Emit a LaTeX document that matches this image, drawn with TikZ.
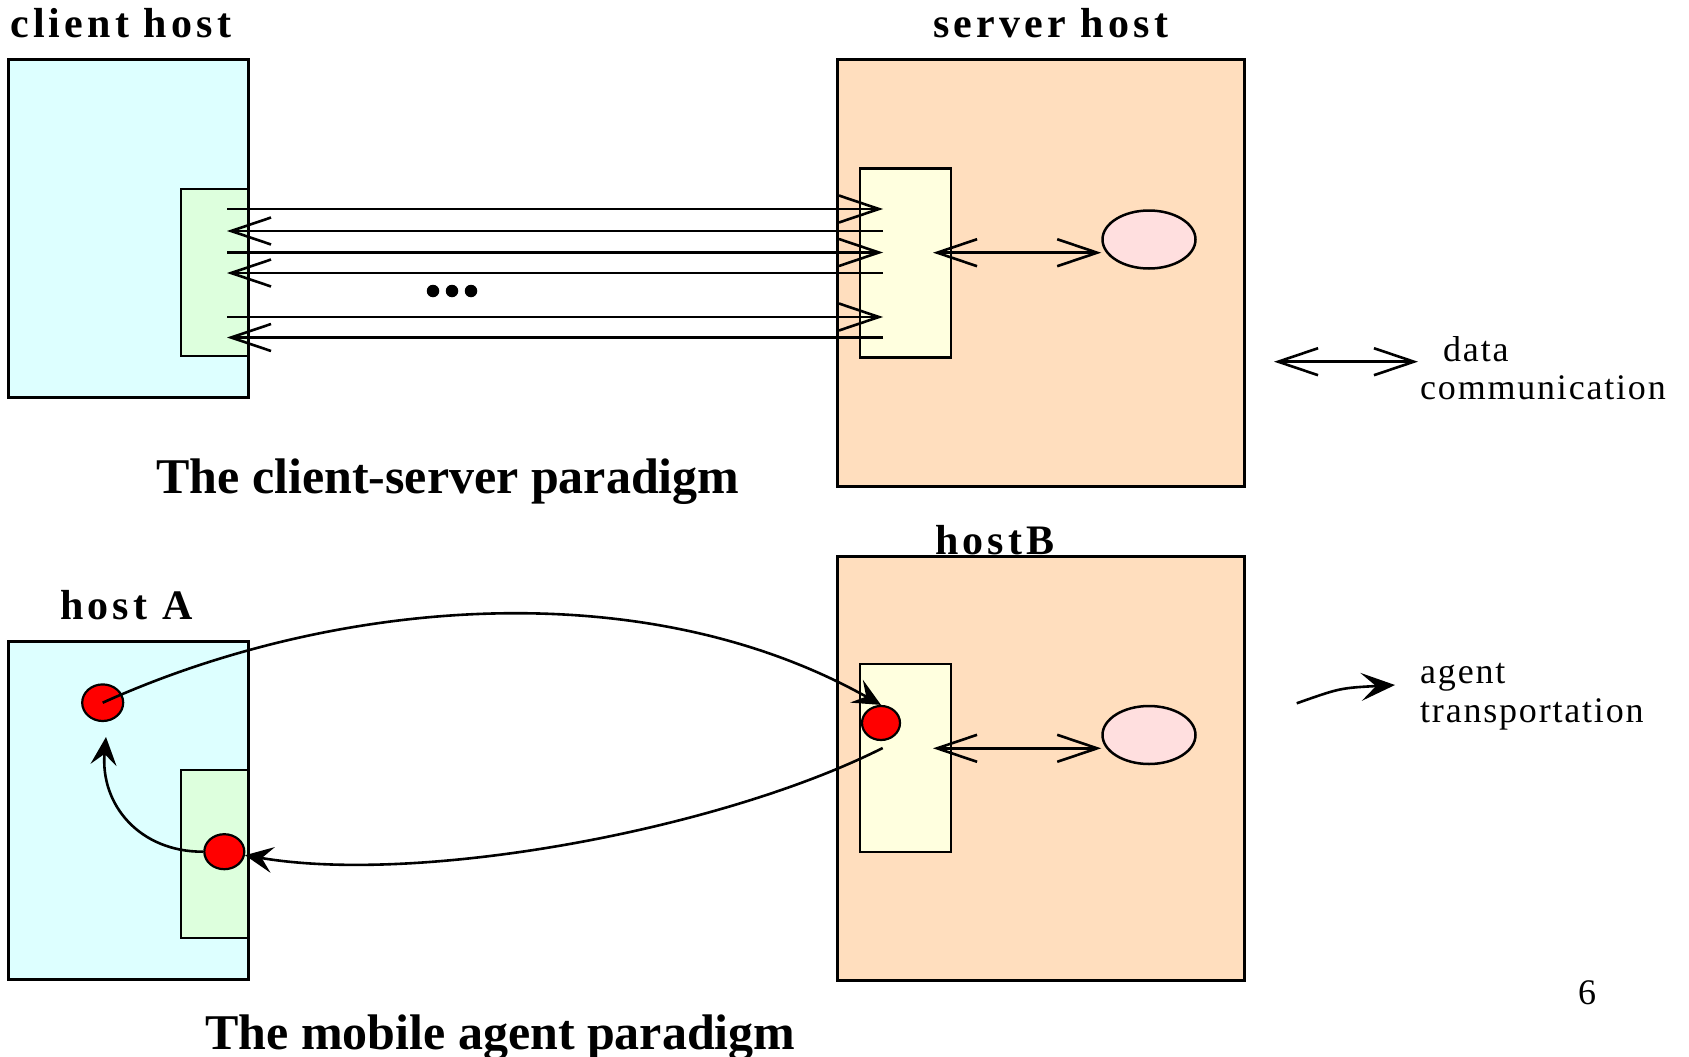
\documentclass[tikz,border=0pt]{standalone}
\usepackage{fontspec}
\setmainfont{Liberation Serif}
\newfontfamily\labelfont[LetterSpace=10]{Liberation Serif}
\newfontfamily\legendfont[LetterSpace=5]{Liberation Serif}
\usetikzlibrary{arrows.meta,shapes.geometric}

\definecolor{clientfill}{HTML}{DDFFFF}
\definecolor{stubfill}{HTML}{DDFFDD}
\definecolor{serverfill}{HTML}{FFDEBE}
\definecolor{skelfill}{HTML}{FFFFDF}
\definecolor{objfill}{HTML}{FFDFDF}
\definecolor{agentred}{HTML}{FF0000}

\begin{document}
\begin{tikzpicture}[x=1pt,y=-1pt,
  >={Straight Barb[length=40pt,width=27pt]},
  hostbox/.style={draw=black,line width=3pt,anchor=north west,inner sep=0pt,outer sep=0pt},
  innerbox/.style={draw=black,line width=2.8pt,anchor=north west,inner sep=0pt,outer sep=0pt},
  object/.style={ellipse,draw=black,line width=2.5pt,fill=objfill,inner sep=0pt,
    minimum width=93pt,minimum height=58pt},
  agent/.style={ellipse,draw=black,line width=2.2pt,fill=agentred,inner sep=0pt},
  dataline/.style={line width=2.6pt},
  movearrow/.style={line width=2.6pt,-{Stealth[length=28pt,width=26pt,inset=11pt]}},
  hostlabel/.style={anchor=base west,inner sep=0pt,font=\labelfont\bfseries\fontsize{42}{50}\selectfont},
  caption/.style={anchor=base west,inner sep=0pt,font=\bfseries\fontsize{50}{60}\selectfont},
  legendtext/.style={anchor=base west,inner sep=0pt,font=\legendfont\fontsize{36}{42}\selectfont},
]
\useasboundingbox (0,0) rectangle (1689,1057);

% ---------- client-server paradigm ----------
\node[hostlabel] (clientlbl) at (10,37.3) {client host};
\node[hostlabel] (serverlbl) at (933,37.3) {server host};

\node[hostbox,fill=clientfill,minimum width=240pt,minimum height=337pt] (client) at (8.5,60) {};
\node[innerbox,fill=stubfill,minimum width=67.5pt,minimum height=167pt] (stub) at (181,189) {};
\node[hostbox,fill=serverfill,minimum width=407pt,minimum height=426pt] (server) at (837,60) {};
\node[innerbox,fill=skelfill,minimum width=91pt,minimum height=189pt] (skel) at (860,168.5) {};
\node[object] (obj) at (1149,239.5) {};

% requests and replies
\foreach \i/\y in {1/209,3/252.5,5/317}{
  \coordinate (cs\i) at (227,\y);
  \coordinate (ss\i) at (883,\y);
  \draw[dataline,->] (cs\i) -- (ss\i);
}
\foreach \i/\y in {2/231,4/273,6/337.5}{
  \coordinate (cs\i) at (227,\y);
  \coordinate (ss\i) at (883,\y);
  \draw[dataline,->] (ss\i) -- (cs\i);
}
\foreach \i/\x in {1/433,2/452,3/471}{
  \node[circle,fill=black,inner sep=0pt,minimum size=12.5pt] (ell\i) at (\x,291) {};
}

\coordinate (skelport) at (933,252.7);
\draw[dataline,<->] (skelport) -- (skelport -| obj.west);

\node[caption] (cscap) at (156,493) {The client-server paradigm};

% legend: data communication
\coordinate (legA) at (1274,361.7);
\coordinate (legB) at (1418,361.7);
\draw[dataline,<->] (legA) -- (legB);
\node[legendtext] (datalbl) at (1443,361) {data};
\node[legendtext] (commlbl) at (1420,399) {communication};

% ---------- mobile agent paradigm ----------
\node[hostlabel] (hostAlbl) at (60,619.3) {host A};
\node[hostlabel] (hostBlbl) at (935,554.3) {hostB};

\node[hostbox,fill=clientfill,minimum width=240pt,minimum height=338pt] (hostA) at (8.5,641) {};
\node[innerbox,fill=stubfill,minimum width=67.5pt,minimum height=168pt] (stubA) at (181,770) {};
\node[hostbox,fill=serverfill,minimum width=407pt,minimum height=424pt] (hostB) at (837,556) {};
\node[innerbox,fill=skelfill,minimum width=91pt,minimum height=188pt] (skelB) at (860,664) {};
\node[object] (objB) at (1149,735) {};

\coordinate (skelportB) at (933,748.3);
\draw[dataline,<->] (skelportB) -- (skelportB -| objB.west);

\node[agent,minimum width=41pt,minimum height=36.6pt] (agA) at (102.7,702.7) {};
\node[agent,minimum width=38pt,minimum height=34pt] (agB) at (881,723) {};
\node[agent,minimum width=40pt,minimum height=35pt] (agC) at (224.3,851.7) {};

% agent migrations
\draw[movearrow] (agA.center) .. controls (330,600) and (640,570) .. (agB.north);
\coordinate (retstart) at (882.7,748);
\draw[movearrow] (retstart) .. controls (720,830) and (420,885) .. (agC);
\coordinate (backtip) at (106,737);
\draw[movearrow] (agC.west) .. controls (140,852) and (100,805) .. (backtip);

\node[caption] (macap) at (205,1049) {The mobile agent paradigm};

% legend: agent transportation
\coordinate (trA) at (1296.7,703.3);
\coordinate (trB) at (1395,685);
\draw[line width=2.6pt,-{Stealth[length=34pt,width=28pt,inset=15pt]}] (trA) .. controls (1340,688) .. (trB);
\node[legendtext] (agentlbl) at (1420,683) {agent};
\node[legendtext] (translbl) at (1420,722) {transportation};

\node[anchor=base west,inner sep=0pt,font=\fontsize{36}{42}\selectfont] (pagenum) at (1578,1004) {6};
\end{tikzpicture}
\end{document}
